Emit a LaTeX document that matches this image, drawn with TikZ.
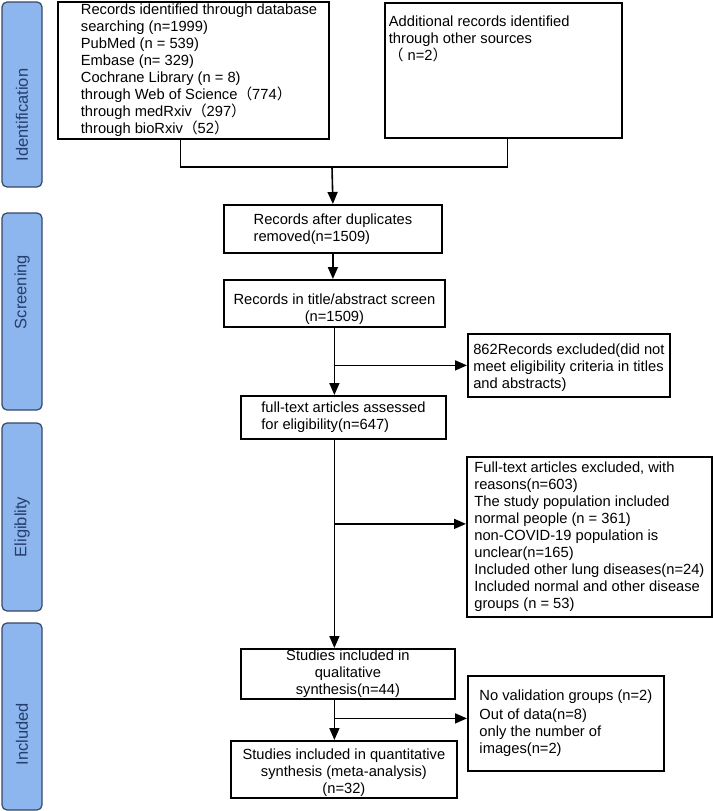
\documentclass[tikz,border=0pt]{standalone}
\usepackage{fontspec}
\setmainfont{Liberation Sans}
\newfontfamily\cjk{Noto Sans CJK SC}
\usetikzlibrary{arrows.meta}

\definecolor{barfill}{RGB}{141,182,238}
\definecolor{barline}{RGB}{52,72,104}
\definecolor{bartext}{RGB}{36,62,110}

% full-width brackets
\newcommand{\fwl}{{\cjk （}}
\newcommand{\fwr}{{\cjk ）}}

\begin{document}
\begin{tikzpicture}[x=1pt, y=-1pt,
	font=\fontsize{14.7}{17}\selectfont,
	box/.style={draw, line width=1.8pt, anchor=north west, inner sep=0pt},
	bar/.style={draw=barline, fill=barfill, line width=1.2pt, rounded corners=5pt},
	stage/.style={rotate=90, text=bartext, font=\fontsize{16.5}{18}\selectfont},
	link/.style={line width=1.6pt},
	arr/.style={line width=1.6pt, -{Triangle[length=12pt,width=10pt]}}]
	\useasboundingbox (0,0) rectangle (712,811);
	
	% Stage bars
	\draw[bar] (2,2) rectangle (42,187);
	\draw[bar] (2,213) rectangle (42,410);
	\draw[bar] (2,423) rectangle (42,611);
	\draw[bar] (2,623) rectangle (42,810);
	\node[stage] (ident) at (22,115) {Identification};
	\node[stage] (screen) at (22,292) {Screening};
	\node[stage] (elig) at (22,527) {Eligiblity};
	\node[stage] (incl) at (22,734) {Included};
	
	% Identification
	\node[box, minimum width=271, minimum height=137] (db) at (57,1) {\parbox{271pt}{\raggedright\leftskip=23pt
		Records identified through database\\ searching (n=1999)\\ PubMed (n = 539)\\ Embase (n= 329)\\
		Cochrane Library (n = 8)\\ through Web of Science\fwl774\fwr\\ through medRxiv\fwl297\fwr\\ through bioRxiv\fwl52\fwr}};
	\node[box, minimum width=237, minimum height=135] (add) at (384,2) {\parbox[c][135pt][t]{237pt}{\raggedright\leftskip=4pt\vspace*{13pt}
		Additional records identified\\ through other sources\\ \fwl\ n=2\fwr}};
	
	% Screening
	\node[box, minimum width=218, minimum height=48, align=left] (dup) at (223,204) {Records after duplicates\\ removed(n=1509)};
	\node[box, minimum width=221, minimum height=47, align=center] (title) at (223,279) {\rule{0pt}{22pt}Records in title/abstract screen\\ (n=1509)};
	\node[box, minimum width=202, minimum height=63, align=left] (scrout) at (467,333) {\rule{0pt}{16pt}862Records excluded(did not\\ meet eligibility criteria in titles\\ and abstracts)};
	
	% Eligibility
	\node[box, minimum width=205, minimum height=43, align=left] (full) at (240,395) {full-text articles assessed\\ for eligibility(n=647)};
	\node[box, minimum width=245, minimum height=160, align=left] (fullout) at (466,456) {Full-text articles excluded, with\\ reasons(n=603)\\
		The study population included\\ normal people (n = 361)\\ non-COVID-19 population is\\ unclear(n=165)\\
		Included other lung diseases(n=24)\\ Included normal and other disease\\ groups (n = 53)};
	
	% Included
	\node[box, minimum width=214, minimum height=50, align=center] (qual) at (240,648) {Studies included in\\ qualitative\\ synthesis(n=44)};
	\node[box, minimum width=196, minimum height=95, align=left] (qualout) at (467,675) {No validation groups (n=2)\\[2pt] Out of data(n=8)\\ only the number of\\ images(n=2)};
	\node[box, minimum width=226, minimum height=57, align=center] (quant) at (230,740) {\rule{0pt}{17pt}Studies included in quantitative\\ synthesis (meta-analysis)\\ (n=32)};
	
	% Connectors
	\coordinate (merge) at (332,167);
	\coordinate (fo) at ([yshift=13pt]fullout.west);
	\coordinate (qo) at ([yshift=5pt]qualout.west);
	\draw[link] ([xshift=-13pt]db.south) |- (merge) -| ([xshift=4pt]add.south);
	\draw[arr] (merge) -- (dup.north);
	\draw[arr] (dup.south) -- (dup.south |- title.north);
	\draw[arr] (title.south) -- (title.south |- full.north);
	\draw[arr] (title.south |- scrout.west) -- (scrout.west);
	\draw[arr] (title.south |- full.south) -- (title.south |- qual.north);
	\draw[arr] (title.south |- fo) -- (fo);
	\draw[arr] (title.south |- qual.south) -- (title.south |- quant.north);
	\draw[arr] (title.south |- qo) -- (qo);
\end{tikzpicture}
\end{document}
